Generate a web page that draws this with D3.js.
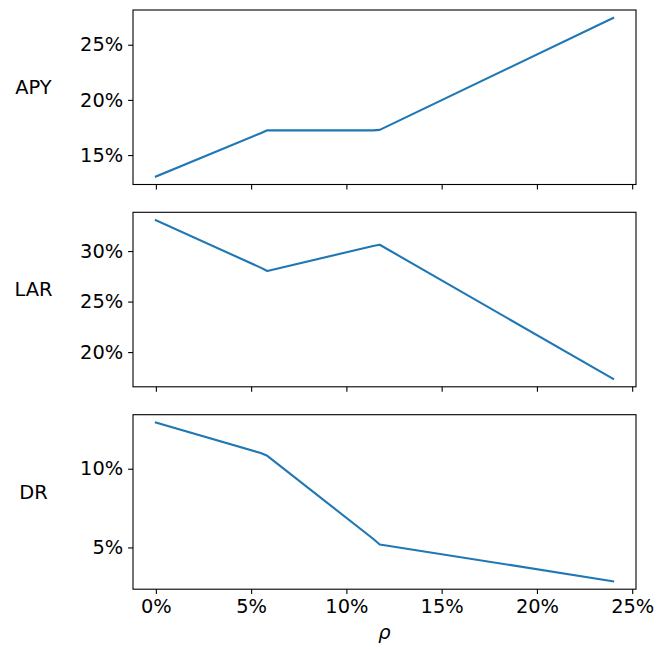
<!DOCTYPE html>
<html>
<head>
<meta charset="utf-8">
<script src="https://cdn.jsdelivr.net/npm/d3@7"></script>
<style>
  html, body { margin: 0; padding: 0; background: #fff; }
  svg { display: block; }
  text { font-family: "DejaVu Sans", sans-serif; fill: #000; }
</style>
</head>
<body>
<svg id="chart" width="657" height="649"></svg>
<script>
// rho values (in %) shared by all panels
const rho = [0, 5.5, 5.85, 11.4, 11.75, 24];

// metric series (in %)
const apy = [13.05, 16.98, 17.25, 17.24, 17.28, 27.43];
const lar = [33.05, 28.36, 28.03, 30.5, 30.62, 17.35];
const dr  = [12.93, 11.0, 10.82, 5.55, 5.19, 2.85];

const xTicks = [0, 5, 10, 15, 20, 25];
const panelNames = ["APY", "LAR", "DR"];
const panelTicks = [[15, 20, 25], [20, 25, 30], [5, 10]];
const panelSeries = [apy, lar, dr];

const svg = d3.select("#chart");
const left = 133, right = 636;
const panelTops = [10, 212.3, 414.7];
const panelH = 174.5;
const fontSize = 19.4;
const lineColor = "#1f77b4";

// matplotlib-style 5% padding around data extent
function padded(ext) {
  const m = (ext[1] - ext[0]) * 0.05;
  return [ext[0] - m, ext[1] + m];
}

const x = d3.scaleLinear().domain(padded(d3.extent(rho))).range([left, right]);
const pct = d => d + "%";

panelNames.forEach((name, i) => {
  const top = panelTops[i], bottom = top + panelH;
  const vals = panelSeries[i];
  const y = d3.scaleLinear().domain(padded(d3.extent(vals))).range([bottom, top]);
  const g = svg.append("g");

  // data line
  const line = d3.line().x((d, j) => x(rho[j])).y(d => y(d));
  g.append("path")
    .datum(vals)
    .attr("d", line)
    .attr("fill", "none")
    .attr("stroke", lineColor)
    .attr("stroke-width", 2.1)
    .attr("stroke-linejoin", "round")
    .attr("stroke-linecap", "square");

  // y axis
  const yAxis = d3.axisLeft(y).tickValues(panelTicks[i]).tickFormat(pct).tickSize(4.9).tickPadding(4.9);
  const ya = g.append("g").attr("transform", `translate(${left},0)`).call(yAxis);
  ya.select(".domain").remove();
  ya.selectAll("line").attr("stroke", "#000").attr("stroke-width", 1.1);
  ya.selectAll("text").attr("font-size", fontSize).attr("font-family", "DejaVu Sans").attr("fill", "#000");

  // x axis
  const xAxis = d3.axisBottom(x).tickValues(xTicks).tickFormat(i === 2 ? pct : "").tickSize(4.9).tickPadding(4.9);
  const xa = g.append("g").attr("transform", `translate(0,${bottom})`).call(xAxis);
  xa.select(".domain").remove();
  xa.selectAll("line").attr("stroke", "#000").attr("stroke-width", 1.1);
  xa.selectAll("text").attr("font-size", fontSize).attr("font-family", "DejaVu Sans").attr("fill", "#000");

  // frame
  g.append("rect")
    .attr("x", left).attr("y", top)
    .attr("width", right - left).attr("height", panelH)
    .attr("fill", "none").attr("stroke", "#000").attr("stroke-width", 1.1);

  // panel label
  g.append("text")
    .attr("x", 33.5)
    .attr("y", (top + bottom) / 2 - 3.3)
    .attr("text-anchor", "middle")
    .attr("font-size", fontSize)
    .text(name);
});

// x axis title
svg.append("text")
  .attr("x", (left + right) / 2)
  .attr("y", 639)
  .attr("text-anchor", "middle")
  .attr("font-size", fontSize)
  .attr("font-style", "italic")
  .text("ρ");
</script>
</body>
</html>
